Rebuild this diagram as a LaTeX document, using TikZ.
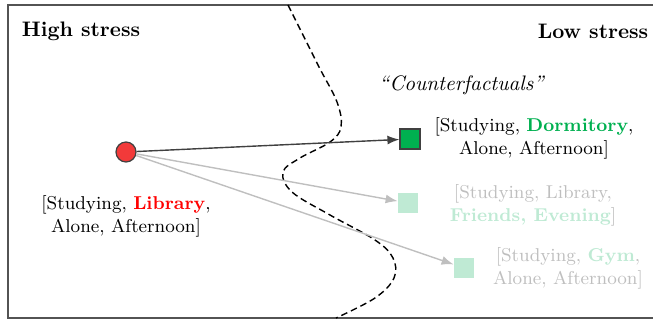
\documentclass[tikz,border=0pt]{standalone}
\usepackage{tikz}
\usetikzlibrary{arrows.meta}

\definecolor{redpt}{HTML}{F23A3A}
\definecolor{greenpt}{HTML}{00B050}
\definecolor{palegreen}{HTML}{BFEAD4}
\definecolor{palegray}{HTML}{BFBFBF}
\definecolor{darkline}{HTML}{404040}

\begin{document}
\begin{tikzpicture}[x=0.5pt,y=-0.5pt]
% Diagram style
\tikzset{
    every node/.style={font=\fontsize{9.3}{11.5}\selectfont},
    title/.style={font=\fontsize{10.5}{12}\selectfont\bfseries},
    label/.style={align=center, inner sep=0pt},
    counter/.style={draw=darkline, fill=greenpt, minimum size=10pt, inner sep=0pt, line width=0.6pt},
    faded/.style={fill=palegreen, minimum size=10pt, inner sep=0pt},
    arr/.style={-{Latex[length=6pt,width=4.5pt]}, line width=0.7pt}
}
\useasboundingbox (0,0) rectangle (653,320);
% Frame
\draw[line width=0.8pt, darkline!90] (670,5) -- (8,5) -- (8,318) -- (670,318);
% Boundary
\draw[dashed, line width=0.7pt, dash pattern=on 3.3pt off 2pt]
    plot[smooth, tension=0.6] coordinates {(288,5) (318,65) (337,102) (341,127)
    (330,142) (300,158) (283,172) (292,192) (330,215) (375,240) (393,258)
    (394,278) (375,298) (336,318)};
% Titles
\node[title] (high) at (81,31) {High stress};
\node[title] (low) at (593,31) {Low stress};
\node[font=\fontsize{10.5}{12}\selectfont] (cf) at (462,85) {\textit{``Counterfactuals''}};
% Points
\node[circle, draw=darkline, fill=redpt, minimum size=10pt, inner sep=0pt, line width=0.6pt] (orig) at (126,152) {};
\node[counter] (dorm) at (410,139) {};
\node[faded] (friends) at (408,203) {};
\node[faded] (gym) at (464,268) {};
% Texts
\node[label] (origtxt) at (126,216) {[Studying, \textcolor{red}{\bfseries Library},\\Alone, Afternoon]};
\node[label] (dormtxt) at (534,138) {[Studying, \textcolor{greenpt}{\bfseries Dormitory},\\Alone, Afternoon]};
\node[label, text=palegray] (friendstxt) at (533,205) {[Studying, Library,\\\textcolor{palegreen}{\bfseries Friends, Evening}]};
\node[label, text=palegray] (gymtxt) at (568,268) {[Studying, \textcolor{palegreen}{\bfseries Gym},\\Alone, Afternoon]};
% Connection
\draw[arr, darkline] (orig) -- (dorm);
\draw[arr, palegray] (orig) -- (friends);
\draw[arr, palegray] (orig) -- (gym);
\end{tikzpicture}
\end{document}
